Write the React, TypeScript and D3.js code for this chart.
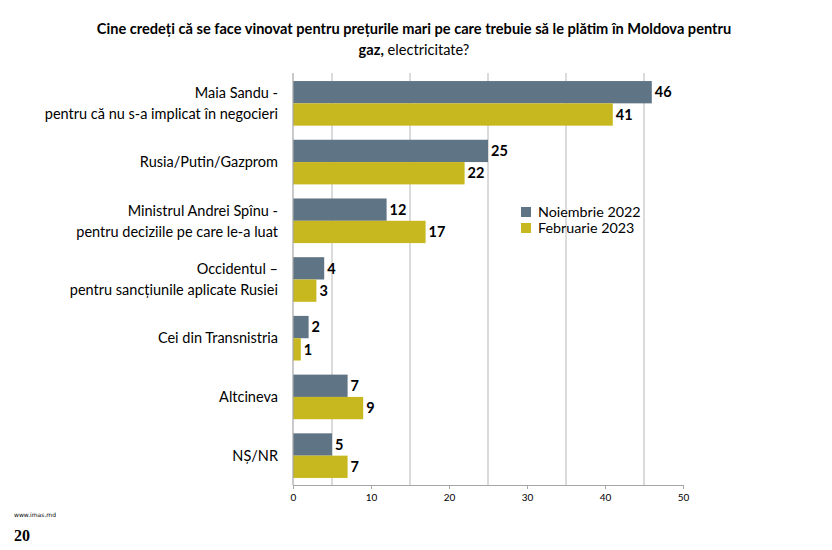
import { useEffect, useRef } from "react";
import * as d3 from "d3";

const CATEGORIES: string[][] = [
  ["Maia Sandu -", "pentru că nu s-a implicat în negocieri"],
  ["Rusia/Putin/Gazprom"],
  ["Ministrul Andrei Spînu -", "pentru deciziile pe care le-a luat"],
  ["Occidentul –", "pentru sancțiunile aplicate Rusiei"],
  ["Cei din Transnistria"],
  ["Altcineva"],
  ["NȘ/NR"],
];
const NOV_2022 = [46, 25, 12, 4, 2, 7, 5];
const FEB_2023 = [41, 22, 17, 3, 1, 9, 7];
const SERIES = ["Noiembrie 2022", "Februarie 2023"];
const TICKS = [0, 10, 20, 30, 40, 50];
const GRID = [5, 15, 25, 35, 45];

const COLORS = ["#5f7485", "#c8b820"];
const FONT = "Lato, 'Open Sans', sans-serif";

export default function App() {
  const svgRef = useRef<SVGSVGElement>(null);

  useEffect(() => {
    if (!svgRef.current) return;
    const svg = d3.select(svgRef.current);
    svg.selectAll("*").remove();

    const left = 293;
    const right = 683;
    const top = 74;
    const bottom = 485;

    const x = d3.scaleLinear().domain([0, 50]).range([left, right]);
    const y = d3
      .scaleBand<number>()
      .domain(d3.range(CATEGORIES.length))
      .range([top, bottom])
      .paddingInner(0.24)
      .paddingOuter(0.12);
    const sub = d3.scaleBand<number>().domain([0, 1]).range([0, y.bandwidth()]);

    // title
    svg
      .append("text")
      .attr("x", 414)
      .attr("y", 34)
      .attr("text-anchor", "middle")
      .attr("font-family", FONT)
      .attr("font-size", 14.6)
      .attr("font-weight", "bold")
      .attr("fill", "#000")
      .text("Cine credeți că se face vinovat pentru prețurile mari pe care trebuie să le plătim în Moldova pentru");
    const t2 = svg
      .append("text")
      .attr("x", 414)
      .attr("y", 55)
      .attr("text-anchor", "middle")
      .attr("font-family", FONT)
      .attr("font-size", 14.6)
      .attr("fill", "#000");
    t2.append("tspan").attr("font-weight", "bold").text("gaz,");
    t2.append("tspan").text(" electricitate?");

    // gridlines
    svg
      .append("g")
      .selectAll("line")
      .data(GRID)
      .enter()
      .append("line")
      .attr("x1", (d) => x(d))
      .attr("x2", (d) => x(d))
      .attr("y1", top - 1)
      .attr("y2", bottom)
      .attr("stroke", "#cfcfcf")
      .attr("stroke-width", 1.5);

    // bars
    const groups = svg
      .append("g")
      .selectAll("g")
      .data(CATEGORIES.map((_, i) => i))
      .enter()
      .append("g")
      .attr("transform", (i) => `translate(0,${y(i)})`);

    [NOV_2022, FEB_2023].forEach((vals, s) => {
      groups
        .append("rect")
        .attr("x", left)
        .attr("y", sub(s)!)
        .attr("width", (i) => x(vals[i]) - left)
        .attr("height", sub.bandwidth())
        .attr("fill", COLORS[s]);
      groups
        .append("text")
        .attr("x", (i) => x(vals[i]) + 3)
        .attr("y", sub(s)! + sub.bandwidth() / 2)
        .attr("dy", "0.36em")
        .attr("font-family", FONT)
        .attr("font-size", 14.5)
        .attr("font-weight", "bold")
        .attr("fill", "#000")
        .text((i) => vals[i]);
    });

    // axis lines
    svg
      .append("line")
      .attr("x1", left)
      .attr("x2", left)
      .attr("y1", top - 1)
      .attr("y2", bottom)
      .attr("stroke", "#a6a6a6")
      .attr("stroke-width", 1.2);

    const axis = svg
      .append("g")
      .attr("transform", `translate(0,${bottom})`)
      .call(d3.axisBottom(x).tickValues(TICKS).tickSize(4).tickPadding(5).tickSizeOuter(0));
    axis.select(".domain").attr("stroke", "#a6a6a6").attr("stroke-width", 1.2);
    axis.selectAll(".tick line").attr("stroke", "#a6a6a6");
    axis
      .selectAll(".tick text")
      .attr("font-family", FONT)
      .attr("font-size", 10)
      .attr("fill", "#000");

    // category labels
    CATEGORIES.forEach((lines, i) => {
      const cy = y(i)! + y.bandwidth() / 2;
      const lh = 21;
      lines.forEach((ln, k) => {
        svg
          .append("text")
          .attr("x", 278)
          .attr("y", cy + (k - (lines.length - 1) / 2) * lh)
          .attr("dy", "0.36em")
          .attr("text-anchor", "end")
          .attr("font-family", FONT)
          .attr("font-size", 14.5)
          .attr("fill", "#000")
          .text(ln);
      });
    });

    // legend
    SERIES.forEach((name, s) => {
      const ly = 207 + s * 16;
      svg
        .append("rect")
        .attr("x", 521)
        .attr("y", ly)
        .attr("width", 10)
        .attr("height", 10)
        .attr("fill", COLORS[s]);
      svg
        .append("text")
        .attr("x", 538)
        .attr("y", ly + 5)
        .attr("dy", "0.36em")
        .attr("font-family", FONT)
        .attr("font-size", 14.3)
        .attr("fill", "#000")
        .text(name);
    });

    // footer
    svg
      .append("text")
      .attr("x", 14)
      .attr("y", 517)
      .attr("font-family", "'DejaVu Sans', sans-serif")
      .attr("font-size", 6)
      .attr("fill", "#000")
      .text("www.imas.md");
    svg
      .append("text")
      .attr("x", 14)
      .attr("y", 541)
      .attr("font-family", "'Liberation Serif', serif")
      .attr("font-size", 16)
      .attr("font-weight", "bold")
      .attr("fill", "#000")
      .text("20");
  }, []);

  return (
    <svg
      ref={svgRef}
      width={832}
      height={550}
      style={{ position: "absolute", left: 0, top: 0, background: "#fff" }}
    />
  );
}
